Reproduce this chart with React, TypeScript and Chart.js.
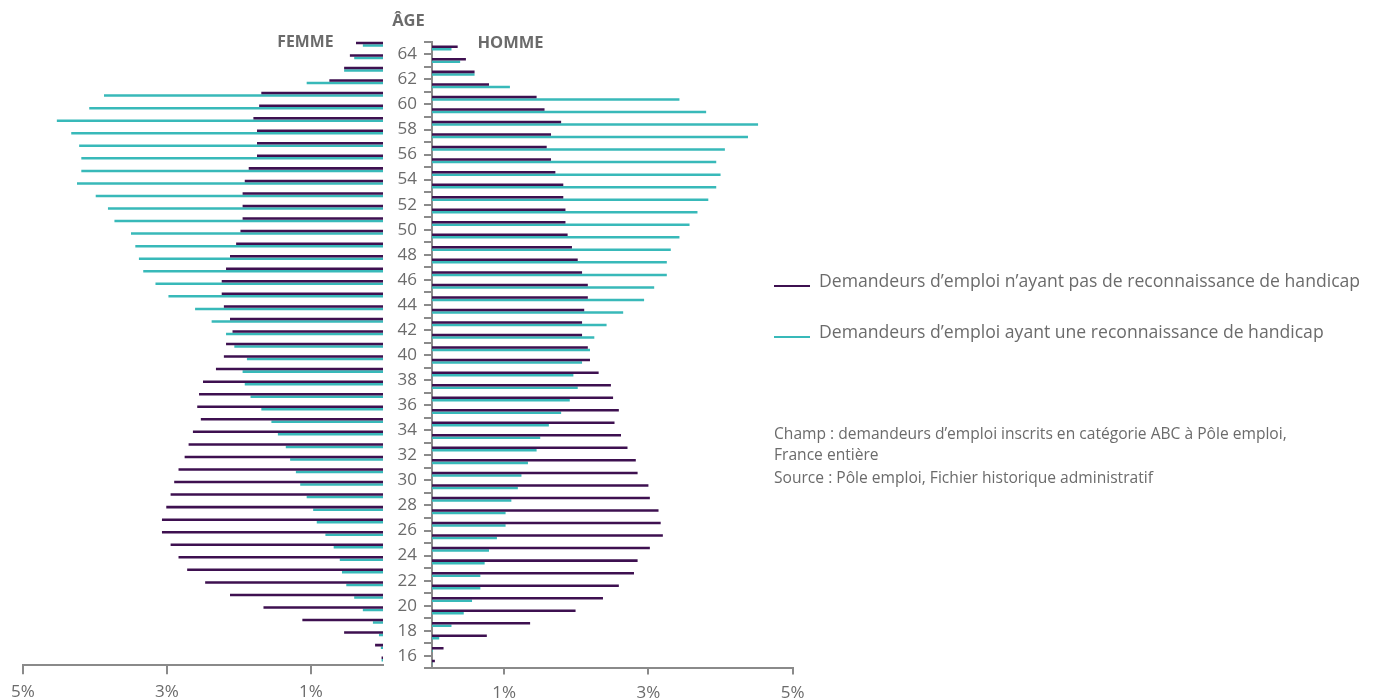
import React, { useEffect, useRef } from 'react';
import { Chart, registerables } from 'chart.js';

Chart.register(...registerables);

// ---- Data (ages from top to bottom) ----
const AGES = [
  '65', '64', '63', '62', '61', '60', '59', '58', '57', '56',
  '55', '54', '53', '52', '51', '50', '49', '48', '47', '46',
  '45', '44', '43', '42', '41', '40', '39', '38', '37', '36',
  '35', '34', '33', '32', '31', '30', '29', '28', '27', '26',
  '25', '24', '23', '22', '21', '20', '19', '18', '17', '16',
];

// tick marks on the age axis (boundaries between age rows)
const AGE_TICKS = [
  65, 64, 63, 62, 61, 60, 59, 58, 57, 56, 55, 54, 53, 52, 51, 50, 49, 48, 47, 46,
  45, 44, 43, 42, 41, 40, 39, 38, 37, 36, 35, 34, 33, 32, 31, 30, 29, 28, 27, 26,
  25, 24, 23, 22, 21, 20, 19, 18, 17, 16, 15,
];

const PCT_TICKS = [1, 3, 5];

const SERIES = [
  'Demandeurs d’emploi n’ayant pas de reconnaissance de handicap',
  'Demandeurs d’emploi ayant une reconnaissance de handicap',
];

// Femmes – sans reconnaissance de handicap (%)
const FEMMES_SANS = [
  0.375, 0.46, 0.54, 0.745, 1.69, 1.72, 1.80, 1.75, 1.75, 1.75,
  1.865, 1.92, 1.95, 1.95, 1.95, 1.98, 2.04, 2.125, 2.18, 2.24,
  2.24, 2.21, 2.125, 2.09, 2.18, 2.21, 2.32, 2.50, 2.555, 2.58,
  2.53, 2.64, 2.70, 2.755, 2.84, 2.90, 2.95, 3.01, 3.07, 3.07,
  2.95, 2.84, 2.72, 2.47, 2.125, 1.66, 1.12, 0.54, 0.11, 0.02,
];

// Femmes – avec reconnaissance de handicap (%)
const FEMMES_AVEC = [
  0.28, 0.40, 0.54, 1.06, 3.875, 4.08, 4.53, 4.33, 4.22, 4.19,
  4.19, 4.25, 3.99, 3.82, 3.73, 3.50, 3.44, 3.39, 3.33, 3.16,
  2.98, 2.61, 2.38, 2.18, 2.065, 1.89, 1.95, 1.92, 1.84, 1.69,
  1.55, 1.46, 1.35, 1.29, 1.21, 1.15, 1.06, 0.97, 0.92, 0.80,
  0.685, 0.60, 0.57, 0.51, 0.40, 0.28, 0.14, 0.056, 0.03, 0.02,
];

// Hommes – sans reconnaissance de handicap (%)
const HOMMES_SANS = [
  0.356, 0.47, 0.59, 0.79, 1.45, 1.56, 1.79, 1.65, 1.59, 1.65,
  1.71, 1.82, 1.82, 1.85, 1.85, 1.88, 1.94, 2.02, 2.08, 2.16,
  2.16, 2.11, 2.08, 2.08, 2.16, 2.19, 2.31, 2.48, 2.51, 2.59,
  2.53, 2.62, 2.71, 2.825, 2.85, 3.00, 3.02, 3.14, 3.17, 3.20,
  3.02, 2.85, 2.80, 2.59, 2.37, 1.99, 1.36, 0.76, 0.16, 0.04,
];

// Hommes – avec reconnaissance de handicap (%)
const HOMMES_AVEC = [
  0.27, 0.39, 0.59, 1.08, 3.43, 3.80, 4.52, 4.38, 4.06, 3.94,
  4.00, 3.94, 3.83, 3.68, 3.57, 3.43, 3.31, 3.255, 3.255, 3.08,
  2.94, 2.65, 2.42, 2.25, 2.19, 2.08, 1.96, 2.02, 1.91, 1.79,
  1.62, 1.50, 1.45, 1.33, 1.24, 1.19, 1.10, 1.02, 1.02, 0.90,
  0.79, 0.73, 0.67, 0.67, 0.555, 0.44, 0.27, 0.10, 0.01, 0.005,
];

// ---- Styles ----
const PURPLE = '#3e1050';
const TEAL = '#38b9b9';
const AXIS = '#8a8a8a';
const TEXT = '#6b6b6b';
const FONT = '"Open Sans", "Noto Sans", sans-serif';

const H = 700;

function makeDatasets(sans: number[], avec: number[]) {
  return [
    { label: SERIES[0], data: sans, backgroundColor: PURPLE, borderWidth: 0 },
    { label: SERIES[1], data: avec, backgroundColor: TEAL, borderWidth: 0 },
  ];
}

function pctAxis(reverse: boolean, areaBottom: number, tickLength: number) {
  return {
    type: 'linear' as const,
    position: 'bottom' as const,
    min: 0,
    max: 5,
    reverse,
    afterBuildTicks: (axis: any) => {
      axis.ticks = PCT_TICKS.map((v) => ({ value: v }));
    },
    afterFit: (scale: any) => {
      scale.height = H - areaBottom;
    },
    grid: {
      offset: false,
      drawOnChartArea: false,
      drawTicks: true,
      tickLength,
      color: AXIS,
      lineWidth: 2,
    },
    border: { display: true, color: AXIS, width: 2 },
    ticks: {
      autoSkip: false,
      maxRotation: 0,
      padding: 8.2,
      color: TEXT,
      font: { family: FONT, size: 17 },
      callback: (v: any) => `${v}%`,
    },
  };
}

function LeftChart() {
  const ref = useRef<HTMLCanvasElement | null>(null);
  useEffect(() => {
    if (!ref.current) return;
    const areaTop = 37.9;
    const areaBottom = 665.2;
    const chart = new Chart(ref.current, {
      type: 'bar',
      data: { labels: AGES, datasets: makeDatasets(FEMMES_SANS, FEMMES_AVEC) as any },
      options: {
        indexAxis: 'y',
        responsive: false,
        animation: false,
        layout: { padding: { left: 23, right: 17, top: areaTop, bottom: 0 } },
        datasets: { bar: { categoryPercentage: 0.4, barPercentage: 1 } },
        plugins: { legend: { display: false }, tooltip: { enabled: false } },
        scales: {
          x: pctAxis(true, areaBottom, 9) as any,
          y: { type: 'category', display: false, offset: true },
        },
      },
    });
    return () => chart.destroy();
  }, []);
  return (
    <canvas
      ref={ref}
      width={400}
      height={H}
      style={{ position: 'absolute', left: 0, top: 0, width: 400, height: H }}
    />
  );
}

function RightChart() {
  const ref = useRef<HTMLCanvasElement | null>(null);
  useEffect(() => {
    if (!ref.current) return;
    const areaTop = 41.8;
    const areaBottom = 668.4;
    const chart = new Chart(ref.current, {
      type: 'bar',
      data: { labels: AGES, datasets: makeDatasets(HOMMES_SANS, HOMMES_AVEC) as any },
      options: {
        indexAxis: 'y',
        responsive: false,
        animation: false,
        layout: { padding: { left: 42, right: 27.3, top: areaTop, bottom: 0 } },
        datasets: { bar: { categoryPercentage: 0.4, barPercentage: 1 } },
        plugins: { legend: { display: false }, tooltip: { enabled: false } },
        scales: {
          x: pctAxis(false, areaBottom, 6) as any,
          y: { type: 'category', display: false, offset: true },
          yAge: {
            type: 'linear',
            axis: 'y',
            position: 'left',
            min: 15,
            max: 65,
            offset: false,
            afterBuildTicks: (axis: any) => {
              axis.ticks = AGE_TICKS.map((v) => ({ value: v }));
            },
            afterFit: (scale: any) => {
              scale.width = 60;
            },
            grid: {
              offset: false,
              drawOnChartArea: false,
              drawTicks: true,
              tickLength: 8,
              color: AXIS,
              lineWidth: 2,
            },
            border: { display: true, color: AXIS, width: 2 },
            ticks: {
              autoSkip: false,
              padding: 7,
              color: TEXT,
              font: { family: FONT, size: 17 },
              callback: (v: any) => (Number(v) % 2 === 0 ? String(v) : ''),
            },
          } as any,
        },
      },
    });
    return () => chart.destroy();
  }, []);
  return (
    <canvas
      ref={ref}
      width={490}
      height={H}
      style={{ position: 'absolute', left: 330, top: 0, width: 490, height: H }}
    />
  );
}

const abs = (s: React.CSSProperties): React.CSSProperties => ({
  position: 'absolute',
  lineHeight: 1,
  whiteSpace: 'nowrap',
  fontFamily: FONT,
  margin: 0,
  ...s,
});

export default function App() {
  return (
    <div
      style={{
        position: 'absolute',
        left: 0,
        top: 0,
        width: 1373,
        height: H,
        background: '#ffffff',
        overflow: 'hidden',
        fontFamily: FONT,
      }}
    >
      <LeftChart />
      <RightChart />

      <div style={abs({ left: 408.5, top: 12.3, transform: 'translateX(-50%)', fontSize: 16.5, fontWeight: 700, color: TEXT })}>
        ÂGE
      </div>
      <div style={abs({ left: 333.5, top: 34.1, transform: 'translateX(-100%)', fontSize: 15.8, fontWeight: 700, color: TEXT })}>
        FEMME
      </div>
      <div style={abs({ left: 477.5, top: 34.1, fontSize: 16.5, fontWeight: 700, color: TEXT })}>HOMME</div>

      {/* Legend */}
      <div style={abs({ left: 774, top: 285.3, width: 36, height: 2, background: PURPLE })} />
      <div style={abs({ left: 819, top: 272.4, fontSize: 17.6, color: TEXT })}>{SERIES[0]}</div>
      <div style={abs({ left: 774, top: 336.3, width: 36, height: 2, background: TEAL })} />
      <div style={abs({ left: 819, top: 323.1, fontSize: 17.6, color: TEXT })}>{SERIES[1]}</div>

      {/* Notes */}
      <div style={abs({ left: 774, top: 425.5, fontSize: 15.6, color: TEXT })}>
        Champ : demandeurs d’emploi inscrits en catégorie ABC à Pôle emploi,
      </div>
      <div style={abs({ left: 774, top: 446.9, fontSize: 15.6, color: TEXT })}>France entière</div>
      <div style={abs({ left: 774, top: 469.5, fontSize: 15.6, color: TEXT })}>
        Source : Pôle emploi, Fichier historique administratif
      </div>
    </div>
  );
}
